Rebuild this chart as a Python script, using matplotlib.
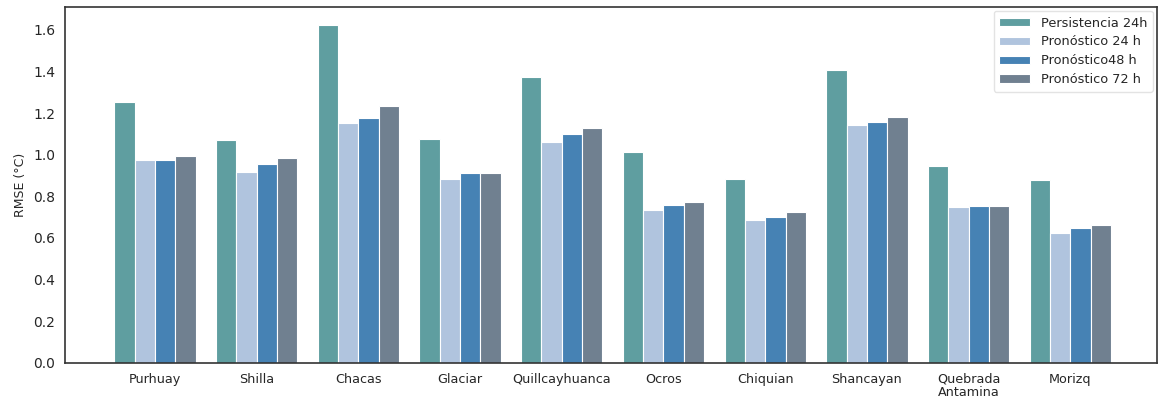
import numpy as np
import matplotlib.pyplot as plt
import seaborn as sns

# Estaciones y RMSE de cada método
estaciones = ['Purhuay', 'Shilla', 'Chacas', 'Glaciar', 'Quillcayhuanca', 'Ocros',
              'Chiquian', 'Shancayan', 'Quebrada\nAntamina', 'Morizq']
persistencia_24 = [1.255, 1.072, 1.625, 1.077, 1.373, 1.013, 0.881, 1.409, 0.947, 0.878]
pronostico_24 = [0.976, 0.918, 1.154, 0.885, 1.061, 0.736, 0.684, 1.143, 0.750, 0.625]
pronostico_48 = [0.975, 0.957, 1.178, 0.913, 1.099, 0.756, 0.699, 1.155, 0.752, 0.648]
pronostico_72 = [0.995, 0.985, 1.236, 0.913, 1.126, 0.774, 0.724, 1.181, 0.754, 0.660]

series = [
    ('Persistencia 24h', persistencia_24, 'cadetblue'),
    ('Pronóstico 24 h', pronostico_24, 'lightsteelblue'),
    ('Pronóstico48 h', pronostico_48, 'steelblue'),
    ('Pronóstico 72 h', pronostico_72, 'slategray'),
]

sns.set_style('white')
plt.rcParams['font.family'] = ['DejaVu Sans']

fig = plt.figure(figsize=(11.58, 4.05), dpi=100)
ax = fig.add_axes([0.056, 0.104, 0.943, 0.879])

x = np.arange(len(estaciones))
ancho = 0.2
for i, (nombre, valores, color) in enumerate(series):
    ax.bar(x + (i - 1.5) * ancho, valores, ancho, label=nombre, color=color,
           edgecolor='white', linewidth=0.8)

ax.set_xticks(x)
ax.set_xticklabels(estaciones, fontsize=9.2, color='#262626', linespacing=1.0)
ax.tick_params(axis='y', labelsize=10, colors='#262626')
ax.set_ylabel('RMSE (°C)', fontsize=9, color='#262626')
ax.set_xlim(-0.885, 9.85)
ax.set_ylim(0, 1.71)

for s in ax.spines.values():
    s.set_color('#333333')
    s.set_linewidth(1.2)

ax.legend(loc='upper right', fontsize=9.3, frameon=True, edgecolor='#dddddd',
          handlelength=2.4, handleheight=0.6, borderpad=0.45, labelspacing=0.45,
          borderaxespad=0.3)

plt.savefig('out.png', dpi=100)
